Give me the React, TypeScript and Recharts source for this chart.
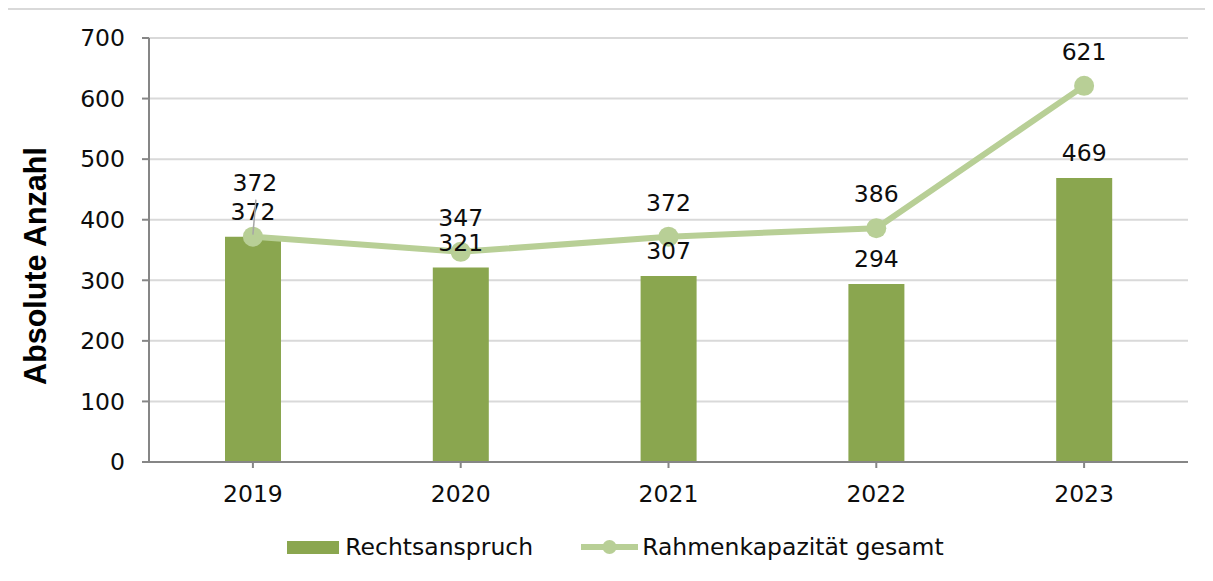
import React from "react";
import {
  ComposedChart,
  Bar,
  Line,
  XAxis,
  YAxis,
  CartesianGrid,
  Legend,
  LabelList,
} from "recharts";

const years = ["2019", "2020", "2021", "2022", "2023"];
const rechtsanspruch = [372, 321, 307, 294, 469];
const rahmenkapazitaet = [372, 347, 372, 386, 621];
const yTicks = [0, 100, 200, 300, 400, 500, 600, 700];

const BAR_COLOR = "#8aa64f";
const LINE_COLOR = "#b8cf96";
const FONT = "'DejaVu Sans', Verdana, sans-serif";
const FS = 23.5;

const data = years.map((y, i) => ({
  year: y,
  rechtsanspruch: rechtsanspruch[i],
  rahmen: rahmenkapazitaet[i],
}));

const BarLabel = (props: any) => {
  const { x, y, width, value } = props;
  return (
    <text
      x={x + width / 2}
      y={y - 17}
      textAnchor="middle"
      fontFamily={FONT}
      fontSize={FS}
      fill="#0d0d0d"
    >
      {value}
    </text>
  );
};

const LineLabel = (props: any) => {
  const { x, y, value, index } = props;
  if (index === 0) {
    return (
      <g>
        <line x1={x + 3} y1={y - 37} x2={x} y2={y - 2} stroke="#a6a6a6" strokeWidth={1.5} />
        <text
          x={x + 2}
          y={y - 46}
          textAnchor="middle"
          fontFamily={FONT}
          fontSize={FS}
          fill="#0d0d0d"
        >
          {value}
        </text>
      </g>
    );
  }
  return (
    <text
      x={x}
      y={y - 26}
      textAnchor="middle"
      fontFamily={FONT}
      fontSize={FS}
      fill="#0d0d0d"
    >
      {value}
    </text>
  );
};

const LegendContent = () => (
  <div
    style={{
      display: "flex",
      justifyContent: "center",
      alignItems: "center",
      height: 40,
      paddingLeft: 18,
      fontFamily: FONT,
      fontSize: FS,
      color: "#0d0d0d",
      whiteSpace: "nowrap",
    }}
  >
    <svg width={52} height={13} style={{ marginRight: 6 }}>
      <rect x={0} y={0} width={52} height={13} fill={BAR_COLOR} />
    </svg>
    <span style={{ marginRight: 48 }}>Rechtsanspruch</span>
    <svg width={57} height={16} style={{ marginRight: 4 }}>
      <line x1={0} y1={8} x2={57} y2={8} stroke={LINE_COLOR} strokeWidth={6} strokeLinecap="round" />
      <circle cx={28.5} cy={8} r={7} fill={LINE_COLOR} />
    </svg>
    <span>Rahmenkapazität gesamt</span>
  </div>
);

const YLabel = () => (
  <text
    x={35}
    y={266}
    transform="rotate(-90 35 266)"
    textAnchor="middle"
    dominantBaseline="central"
    fontFamily="'Liberation Sans', Arial, sans-serif"
    fontWeight="bold"
    fontSize={30.5}
    fill="#000"
  >
    Absolute Anzahl
  </text>
);

const RightTick = (props: any) => {
  const { offset } = props;
  if (!offset) return null;
  const xr = offset.left + offset.width;
  const yb = offset.top + offset.height;
  return <line x1={xr} y1={yb} x2={xr} y2={yb + 6} stroke="#868686" strokeWidth={2} />;
};

export default function App() {
  return (
    <div
      style={{
        position: "relative",
        width: 1213,
        height: 581,
        margin: -8,
        overflow: "hidden",
        background: "#fff",
      }}
    >
      <div
        style={{
          position: "absolute",
          left: 6,
          top: 8,
          width: 1240,
          height: 620,
          borderTop: "2px solid #d9d9d9",
          borderLeft: "2px solid #d9d9d9",
        }}
      />
      <div style={{ position: "absolute", left: 0, top: 0 }}>
        <ComposedChart
          width={1213}
          height={581}
          data={data}
          margin={{ top: 38, right: 25, bottom: 59, left: 49 }}
        >
          <CartesianGrid vertical={false} stroke="#d9d9d9" strokeWidth={2} />
          <XAxis
            dataKey="year"
            height={60}
            axisLine={{ stroke: "#868686", strokeWidth: 2 }}
            tickLine={{ stroke: "#868686", strokeWidth: 2 }}
            tickSize={6}
            tickMargin={17}
            tick={{ fontFamily: FONT, fontSize: FS, fill: "#0d0d0d" }}
          />
          <YAxis
            width={100}
            domain={[0, 700]}
            ticks={yTicks}
            interval={0}
            axisLine={{ stroke: "#868686", strokeWidth: 2 }}
            tickLine={{ stroke: "#868686", strokeWidth: 2 }}
            tickSize={7}
            tickMargin={17}
            tick={{ fontFamily: FONT, fontSize: FS, fill: "#0d0d0d" }}
          />
          <Legend
            verticalAlign="middle"
            align="center"
            wrapperStyle={{ top: 527, left: 0, width: 1213 }}
            content={<LegendContent />}
          />
          <Bar
            dataKey="rechtsanspruch"
            name="Rechtsanspruch"
            fill={BAR_COLOR}
            barSize={56}
            isAnimationActive={false}
          >
            <LabelList dataKey="rechtsanspruch" content={<BarLabel />} />
          </Bar>
          <Line
            dataKey="rahmen"
            name="Rahmenkapazität gesamt"
            stroke={LINE_COLOR}
            strokeWidth={6}
            dot={{ r: 10, fill: LINE_COLOR, stroke: "none" }}
            activeDot={false}
            isAnimationActive={false}
          >
            <LabelList dataKey="rahmen" content={<LineLabel />} />
          </Line>
          <YLabel />
        </ComposedChart>
      </div>
    </div>
  );
}
